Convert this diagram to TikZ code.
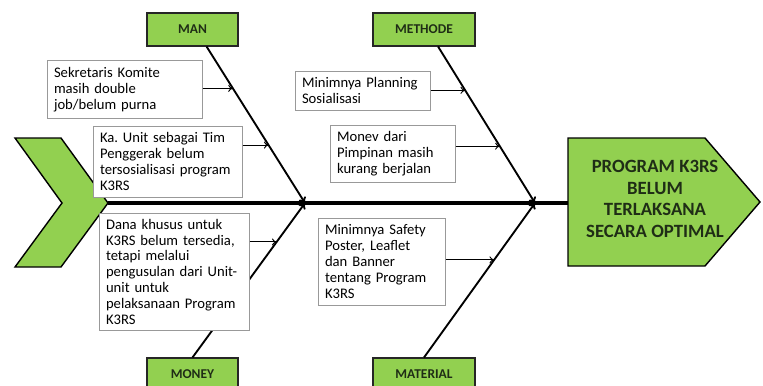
\documentclass[tikz,border=0pt]{standalone}
\usepackage{fontspec}
\setmainfont{Carlito}
\usetikzlibrary{arrows.meta, calc}

\definecolor{kgreen}{HTML}{92D050}
\definecolor{ktext}{HTML}{1F2D16}
\frenchspacing

\begin{document}
\begin{tikzpicture}[
  x=0.03cm, y=-0.03cm,
  cat/.style={rectangle, draw=black!85, line width=0.9pt, fill=kgreen, minimum height=0.99cm, text=ktext, font=\fontsize{11.5}{13}\selectfont\bfseries},
  cause/.style={rectangle, draw=black!40, line width=0.6pt, fill=white, anchor=north west, align=left, inner xsep=0.2cm, font=\fontsize{12.5}{13.6}\selectfont},
  bone/.style={-{To[length=5pt, width=7pt]}, line width=1.6pt},
  spine/.style={line width=3.4pt},
  arrow/.style={-{To[length=4pt, width=6pt]}, line width=0.8pt}
]
\clip (0,0) rectangle (763,385);

% Tail and head
\draw[fill=kgreen, line width=1.2pt] (15,138) -- (61,138) -- (108,203) -- (61,267) -- (15,267) -- (62,203) -- cycle;
\draw[fill=kgreen, line width=1.2pt] (568,138) -- (705,138) -- (760,202) -- (705,266) -- (568,266) -- cycle;
\node[text=ktext, align=center, font=\fontsize{16}{18.5}\selectfont\bfseries] (effect) at (655,199)
  {PROGRAM K3RS\\BELUM\\TERLAKSANA\\SECARA OPTIMAL};

\coordinate (tail) at (108,203);
\coordinate (headin) at (568,203);
\coordinate (j1) at (305,203);
\coordinate (j2) at (535,203);
\draw[spine] (tail) -- (headin);

% Categories
\node[cat, minimum width=2.73cm] (man) at (192.5,29.5) {MAN};
\node[cat, minimum width=3.06cm] (methode) at (424,29.5) {METHODE};
\node[cat, minimum width=2.73cm] (money) at (192.5,374.5) {MONEY};
\node[cat, minimum width=3.06cm] (material) at (424,374.5) {MATERIAL};

\coordinate (manb) at ([xshift=12pt]man.south);
\coordinate (methodeb) at ([xshift=12pt]methode.south);
\coordinate (moneyb) at (money.north);
\coordinate (materialb) at (material.north);

\draw[bone] (manb) -- (j1);
\draw[bone] (moneyb) -- (j1);
\draw[bone] (methodeb) -- (j2);
\draw[bone] (materialb) -- (j2);

% Points on the bones
\coordinate (c1) at ($(manb)!0.2675!(j1)$);
\coordinate (c2) at ($(manb)!0.63!(j1)$);
\coordinate (c3) at ($(moneyb)!0.748!(j1)$);
\coordinate (c4) at ($(methodeb)!0.28!(j2)$);
\coordinate (c5) at ($(methodeb)!0.637!(j2)$);
\coordinate (c6) at ($(materialb)!0.632!(j2)$);

% Causes
\node[cause, text width=4.25cm, minimum height=1.74cm] (sekretaris) at (47,60)
  {Sekretaris Komite\\masih double\\job/belum purna};
\node[cause, text width=4.07cm, minimum height=2.13cm] (kaunit) at (93,126)
  {Ka. Unit sebagai Tim\\Penggerak belum\\tersosialisasi program\\K3RS};
\node[cause, text width=4.1cm, minimum height=3.51cm] (dana) at (99,213)
  {Dana khusus untuk\\K3RS belum tersedia,\\tetapi melalui\\pengusulan dari Unit-\\unit untuk\\pelaksanaan Program\\K3RS};
\node[cause, text width=3.65cm, minimum height=1.17cm] (planning) at (295,71)
  {Minimnya Planning\\Sosialisasi};
\node[cause, text width=3.35cm, minimum height=1.71cm] (monev) at (330,125)
  {Monev dari\\Pimpinan masih\\kurang berjalan};
\node[cause, text width=3.41cm, minimum height=2.61cm] (poster) at (318,218)
  {Minimnya Safety\\Poster, Leaflet\\dan Banner\\tentang Program\\K3RS};

\draw[arrow] (sekretaris.east |- c1) -- (c1);
\draw[arrow] (kaunit.east |- c2) -- (c2);
\draw[arrow] (dana.east |- c3) -- (c3);
\draw[arrow] (planning.east |- c4) -- (c4);
\draw[arrow] (monev.east |- c5) -- (c5);
\draw[arrow] (poster.east |- c6) -- (c6);

\end{tikzpicture}
\end{document}
